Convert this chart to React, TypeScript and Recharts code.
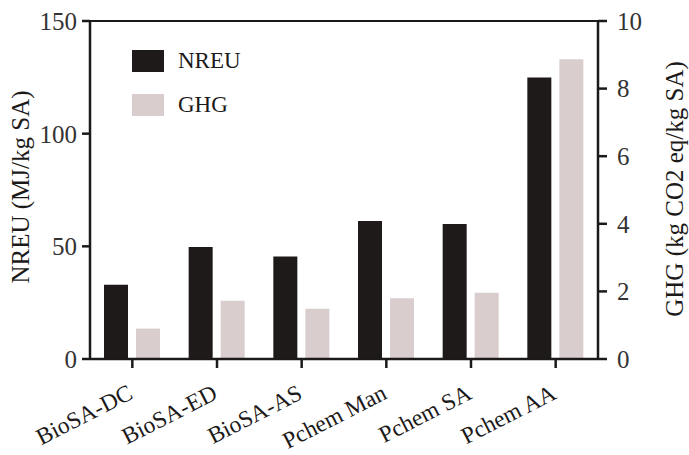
import {
  Bar,
  BarChart,
  ReferenceLine,
  XAxis,
  YAxis,
} from "recharts";

const categories = ["BioSA-DC", "BioSA-ED", "BioSA-AS", "Pchem Man", "Pchem SA", "Pchem AA"];
const nreuValues = [33.0, 49.7, 45.5, 61.2, 59.9, 124.9];
const ghgValues = [0.9, 1.72, 1.49, 1.8, 1.96, 8.87];
const nreuTicks = [0, 50, 100, 150];
const ghgTicks = [0, 2, 4, 6, 8, 10];

const FONT = '"Liberation Serif", "Times New Roman", serif';
const INK = "#1c1a19";
const NREU_COLOR = "#1d1a19";
const GHG_COLOR = "#d9cdce";

const data = categories.map((name, i) => ({
  name,
  NREU: nreuValues[i],
  GHG: ghgValues[i],
}));

function CategoryTick({ x, y, payload }: any) {
  const ax = x + 2;
  const ay = y + 28;
  return (
    <text
      x={ax}
      y={ay}
      transform={`rotate(-27, ${ax}, ${ay})`}
      textAnchor="end"
      fontFamily={FONT}
      fontSize={23.5}
      fill={INK}
    >
      {payload.value}
    </text>
  );
}

// rotated axis title, cx/cy = centre of the text
function AxisTitle({ cx, cy, text }: { cx: number; cy: number; text: string }) {
  return (
    <text
      x={cx}
      y={cy}
      transform={`rotate(-90, ${cx}, ${cy})`}
      textAnchor="middle"
      dominantBaseline="central"
      fontFamily={FONT}
      fontSize={25}
      fill={INK}
    >
      {text}
    </text>
  );
}

function LegendBox() {
  const items = [
    { label: "NREU", color: NREU_COLOR },
    { label: "GHG", color: GHG_COLOR },
  ];
  return (
    <div
      style={{ position: "absolute", left: 132, top: 50, fontFamily: FONT, fontSize: 23, color: INK }}
    >
      {items.map((it, i) => (
        <div
          key={it.label}
          style={{ display: "flex", alignItems: "center", height: 22, marginBottom: i === 0 ? 22 : 0 }}
        >
          <span style={{ display: "inline-block", width: 32, height: 22, background: it.color }} />
          <span style={{ marginLeft: 14, lineHeight: "22px" }}>{it.label}</span>
        </div>
      ))}
    </div>
  );
}

export default function App() {
  return (
    <div style={{ position: "absolute", left: 0, top: 0, width: 689, height: 455, background: "#fff" }}>
      <BarChart
        width={689}
        height={455}
        data={data}
        margin={{ top: 21, right: 0, bottom: 0, left: 0 }}
        barSize={24}
        barGap={8}
      >
        <XAxis
          dataKey="name"
          height={96}
          tick={<CategoryTick />}
          tickSize={9}
          axisLine={{ stroke: INK, strokeWidth: 2.5 }}
          tickLine={{ stroke: INK, strokeWidth: 2.5 }}
          interval={0}
        />
        <YAxis
          yAxisId="left"
          width={90}
          domain={[0, 150]}
          ticks={nreuTicks}
          tickSize={8}
          tickMargin={5}
          axisLine={{ stroke: INK, strokeWidth: 2.5 }}
          tickLine={{ stroke: INK, strokeWidth: 2.5 }}
          tick={{ fontFamily: FONT, fontSize: 25, fill: "#333" }}
          label={() => <AxisTitle cx={20} cy={187} text="NREU (MJ/kg SA)" />}
        />
        <YAxis
          yAxisId="right"
          orientation="right"
          width={91}
          domain={[0, 10]}
          ticks={ghgTicks}
          tickSize={9}
          tickMargin={10}
          axisLine={{ stroke: INK, strokeWidth: 2.5 }}
          tickLine={{ stroke: INK, strokeWidth: 2.5 }}
          tick={{ fontFamily: FONT, fontSize: 25, fill: "#333" }}
          label={() => <AxisTitle cx={674} cy={189} text="GHG (kg CO2 eq/kg SA)" />}
        />
        <ReferenceLine yAxisId="left" y={150} stroke={INK} strokeWidth={2} />
        <Bar yAxisId="left" dataKey="NREU" fill={NREU_COLOR} isAnimationActive={false} />
        <Bar yAxisId="right" dataKey="GHG" fill={GHG_COLOR} isAnimationActive={false} />
      </BarChart>
      <LegendBox />
    </div>
  );
}
